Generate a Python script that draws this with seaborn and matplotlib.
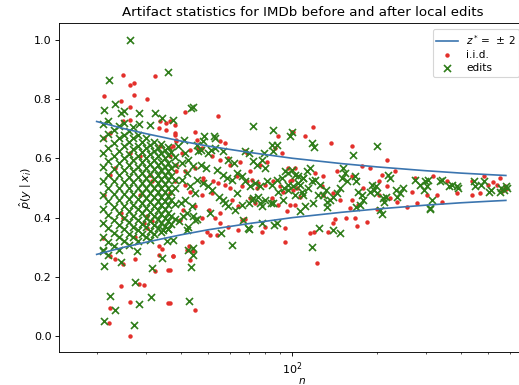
import numpy as np
import pandas as pd
import matplotlib
matplotlib.use("Agg")
import matplotlib.pyplot as plt
import seaborn as sns

# bounds (z* = +-2)
bound_n = [20, 25, 30, 40, 50, 70, 100, 150, 200, 300, 400, 500, 578]
bound_upper = [0.724, 0.700, 0.683, 0.658, 0.641, 0.620, 0.600, 0.582, 0.571, 0.558, 0.550, 0.545, 0.542]
bound_lower = [0.276, 0.300, 0.317, 0.342, 0.359, 0.380, 0.400, 0.418, 0.429, 0.442, 0.450, 0.455, 0.458]

# dense block of edits at small n (one column per n)
grid_cols = [21, 22, 23, 24, 25, 26, 27, 28, 29, 30, 31, 32, 33, 34, 35, 36, 37, 38]
grid_p = [
    [.286, .333, .381, .429, .476, .524, .571, .619, .667, .714],
    [.273, .318, .364, .409, .455, .500, .545, .591, .636, .682, .727],
    [.304, .348, .391, .435, .478, .522, .565, .609, .652, .696],
    [.292, .333, .375, .417, .458, .500, .542, .583, .625, .667, .708],
    [.320, .360, .400, .440, .480, .520, .560, .600, .640, .680, .720],
    [.308, .346, .385, .423, .462, .500, .538, .577, .615, .654, .692],
    [.333, .370, .407, .444, .481, .519, .556, .593, .630, .667, .704],
    [.321, .357, .393, .429, .464, .500, .536, .571, .607, .643, .679],
    [.345, .379, .414, .448, .483, .517, .552, .586, .621, .655],
    [.333, .367, .400, .433, .467, .500, .533, .567, .600, .633, .667],
    [.323, .355, .387, .419, .452, .484, .516, .548, .581, .613, .645],
    [.344, .375, .406, .438, .469, .500, .531, .563, .594, .625, .656],
    [.364, .394, .424, .455, .485, .515, .545, .576, .606, .636],
    [.353, .382, .412, .441, .471, .500, .529, .559, .588, .618, .647],
    [.371, .400, .429, .457, .486, .514, .543, .571, .600, .629],
    [.361, .389, .417, .444, .472, .500, .528, .556, .583, .611, .639],
    [.378, .405, .459, .486, .541, .568, .622],
    [.395, .447, .500, .526, .579, .605],
]

# remaining edits
edits_n = [26.3, 36, 22.2, 21.2, 23.3, 24.4, 25.1, 28.4, 32.3, 34.2, 37.6, 31.1, 28.4, 44, 43.5,
           72.6, 85.5, 98, 100, 88, 117, 119, 200, 165,
           61, 117, 124, 140, 148, 88, 70, 55.5, 37.6, 44, 44, 43.4, 42.8, 31.3, 31.5, 27.4,
           28.4, 27.2, 23.3, 22.3, 21.2, 21.2, 24.4, 34.2, 34.6, 310, 208, 21.1, 27.8, 35.6,
           36, 42.5, 66.6, 77.7, 86, 69.6,
           40.3, 41.5, 42.5, 44.3, 42, 43, 45, 41.5, 43.7, 42, 44.3, 42.5, 45.5, 40, 39.5,
           40.5, 39, 41, 40.8, 45, 42,
           52.5, 53, 48.5, 48, 84.5, 85.5, 79, 45.5, 46, 47, 50, 51, 53, 56.5, 59, 62, 67.8,
           69.7, 72.5, 74.7, 77.7, 79.9, 94.1, 96.8, 99.5, 102, 105,
           45.5, 48, 50, 51.8, 54.6, 57.5, 59, 62.4, 66, 69.7, 71.6, 75.3, 77.7, 79.9, 84, 89,
           93, 96.8, 102, 108,
           47, 49, 53.8, 56.4, 58.3, 60.8, 63.4, 66, 67.8, 70.6, 73.6, 76.7, 80.9, 84.4, 88,
           91.6, 96.8, 100.8, 105, 109,
           50.8, 56.6, 63.3, 72.6, 76.7, 85.5, 92.9,
           115.6, 112.5, 109.5, 117, 106.5, 114, 109.5, 118.8, 111, 106.5,
           152, 154, 150, 156, 148, 144, 140, 136, 133, 129, 133,
           167, 169, 172, 177, 179, 174, 169, 192, 195, 198, 189, 200,
           206, 211, 216, 219, 223, 213, 234, 242, 249, 237,
           274, 286, 298, 302, 306, 294, 314, 310, 337, 341, 361, 371, 386, 391,
           443, 449, 472, 484, 504, 510, 557, 570, 578, 550, 583,
           125, 132, 123, 120]
edits_p = [1.0, 0.89, 0.865, 0.764, 0.784, 0.752, 0.76, 0.752, 0.752, 0.735, 0.73, 0.713, 0.715, 0.773, 0.768,
           0.71, 0.696, 0.674, 0.687, 0.646, 0.651, 0.637, 0.643, 0.61,
           0.308, 0.30, 0.364, 0.359, 0.348, 0.381, 0.361, 0.348, 0.325, 0.297, 0.274, 0.235, 0.119, 0.134, 0.229, 0.184,
           0.109, 0.038, 0.089, 0.136, 0.05, 0.238, 0.252, 0.263, 0.359, 0.429, 0.412, 0.29, 0.286, 0.32,
           0.36, 0.291, 0.393, 0.382, 0.376, 0.364,
           .528, .618, .595, .573, .55, .505, .483, .46, .438, .415, .404, .37, .394, .45, .39,
           .585, .64, .66, .404, .393, .359,
           .674, .668, .674, .657, .646, .623, .618, .646, .623, .629, .618, .629, .635, .623, .595, .584, .623,
           .618, .59, .578, .595, .567, .556, .55, .561, .544, .539,
           .528, .516, .505, .494, .471, .449, .438, .426, .443, .449, .46, .471, .438, .46, .449, .488,
           .5, .51, .477, .488,
           .576, .567, .561, .544, .533, .528, .55, .539, .522, .505, .516, .505, .522, .511, .528,
           .533, .494, .505, .516, .533,
           .415, .46, .483, .466, .449, .449, .46,
           .567, .556, .533, .522, .511, .499, .477, .449, .438, .421,
           .567, .55, .533, .522, .499, .483, .471, .46, .454, .477, .437,
           .539, .522, .488, .477, .46, .443, .437, .511, .494, .505, .488, .483,
           .426, .466, .471, .544, .533, .454, .494, .483, .499, .471,
           .528, .511, .522, .505, .528, .494, .46, .432, .522, .528, .505, .511, .505, .499,
           .522, .505, .511, .522, .488, .494, .499, .494, .505, .488, .499,
           .511, .494, .477, .527]

# i.i.d. samples
iid_n = [21.2, 24.8, 26.3, 27.2, 27.2, 30.3, 32.3, 24.4, 26.3, 24.8, 26.3, 21.2, 22.3, 26.3, 23.3,
         22.3, 28.5, 33.7, 35.3, 36.6, 33.3, 35.5, 38, 38.5, 36.6, 33.7, 38.5, 31, 31.5, 28.5,
         21.2, 24.4, 24.8, 30.2, 31.5, 29.4, 30.3, 21.1, 27.4, 23.3, 22.3, 24.8, 27.4, 33.3, 34.3,
         33.5, 37.6, 32.3, 36, 24.4, 28.3, 29.4, 22.3, 22.2, 26.3, 26.3, 36,
         41.5, 54.4, 38.2, 38, 38.5, 45, 45.5, 46, 55.2, 57.4, 67.8, 99.5, 89, 37.6, 36.6,
         40.3, 43.1, 47.4, 51.5, 55.2, 59, 59.9, 65, 68.7, 70.6, 76.7, 81, 86.7, 91.6, 96.8, 102,
         38.5, 41.5, 45, 48, 52, 57.4, 63.3, 68.7, 71.6, 74.6, 79.9, 85.5, 92.9, 98, 103.6,
         38, 41.5, 48, 54.4, 59.9, 65.9, 75.6, 90.4, 36.6, 43.1, 47.4, 51.5, 60.7, 64.1, 70.6,
         73.6, 84.4, 89, 95.5, 102, 40.8, 45, 50.2, 55.2, 47.4, 52.9, 39.7,
         49.4, 50.8, 53.7, 55.2, 59, 64.1, 65.9, 67.8, 77.7, 79.9, 94.2, 94.2, 47.4, 42, 43.1,
         37.6, 36.6, 36.6, 45, 42.8, 44,
         100.3, 111, 118, 137, 163,
         99.5, 120.5, 129, 144, 163, 177, 189, 208, 217, 232, 274, 318, 356, 437, 481, 551,
         98, 116, 119, 134, 140, 142, 167, 170, 184, 122,
         100.8, 106.5, 127.3, 129, 140, 148, 163, 161, 172, 179, 203, 203, 217, 223, 236, 267,
         278, 302, 327, 341, 386, 437, 468, 501, 536, 575, 580, 560, 520, 200, 256, 155]
iid_p = [.811, .882, .846, .853, .814, .80, .876, .792, .772, .724, .73, .668, .685, .618, .567,
         .544, .606, .724, .718, .724, .702, .696, .68, .657, .634, .64, .556, .544, .522, .477,
         .477, .415, .398, .404, .387, .381, .364, .331, .336, .261, .271, .244, .26, .303, .295,
         .274, .269, .22, .223, .168, .177, .173, .094, .044, .117, 0.0, .111,
         .756, .743, .713, .685, .663, .69, .663, .634, .657, .651, .623, .69, .674, .64, .606,
         .618, .629, .634, .606, .595, .601, .578, .589, .618, .556, .578, .589, .634, .618, .567, .567,
         .578, .556, .567, .533, .522, .511, .539, .522, .528, .499, .511, .522, .488, .522, .499,
         .522, .511, .522, .516, .499, .505, .516, .505, .483, .488, .477, .483, .46, .438, .466,
         .449, .466, .443, .421, .443, .426, .438, .426, .415, .398, .398, .393,
         .353, .342, .342, .381, .37, .359, .393, .395, .353, .37, .364, .319, .319, .291, .258,
         .269, .224, .111, .089, .303, .286,
         .69, .674, .704, .651, .64,
         .528, .551, .539, .556, .539, .573, .567, .545, .595, .556, .533, .539, .522, .522, .539, .533,
         .443, .348, .353, .353, .381, .395, .40, .372, .384, .246,
         .494, .471, .505, .477, .483, .46, .46, .432, .443, .499, .522, .477, .505, .466, .454, .488,
         .449, .477, .477, .454, .483, .477, .483, .511, .511, .505, .497, .49, .52, .429, .437, .398]

# build tables
grid_n_flat = [n for n, ps in zip(grid_cols, grid_p) for _ in ps]
grid_p_flat = [p for ps in grid_p for p in ps]
edits = pd.DataFrame({"n": grid_n_flat + edits_n, "p": grid_p_flat + edits_p})
iid = pd.DataFrame({"n": iid_n, "p": iid_p})
bounds = pd.DataFrame({"n": bound_n, "upper": bound_upper, "lower": bound_lower})

dpi = 80
fig = plt.figure(figsize=(519 / dpi, 385 / dpi), dpi=dpi)
# axes run past the right edge like in the cropped original
ax = fig.add_axes([59.2 / 519, 1 - 352.3 / 385, 486.2 / 519, 329.6 / 385])

sns.lineplot(data=bounds, x="n", y="upper", color="#3b75af", lw=1.5,
             label="$z^* =\\,\\pm\\,2$", estimator=None, sort=False, ax=ax)
sns.lineplot(data=bounds, x="n", y="lower", color="#3b75af", lw=1.5,
             estimator=None, sort=False, ax=ax)
sns.scatterplot(data=iid, x="n", y="p", color="#e3302b", s=16, linewidth=0,
                label="i.i.d.", ax=ax)
sns.scatterplot(data=edits, x="n", y="p", color="#2f7d1a", marker="x", s=40,
                linewidth=1.5, label="edits", ax=ax)

ax.set_xscale("log")
ax.set_xlim(14.7, 800)
ax.set_ylim(-0.054, 1.057)
ax.set_yticks([0.0, 0.2, 0.4, 0.6, 0.8, 1.0])
ax.set_xlabel("$n$", labelpad=-0.5, fontsize=9.5)
ax.set_ylabel("$\\hat{p}(y \\mid x_i)$", labelpad=0)
ax.set_title("Artifact statistics for IMDb before and after local edits")

ax.legend(loc="upper left", bbox_to_anchor=(432.7 / 519, 1 - 29.3 / 385),
          bbox_transform=fig.transFigure, borderaxespad=0, fontsize=9.5,
          borderpad=0.35, labelspacing=0.3)

fig.savefig("out.png", dpi=dpi)
